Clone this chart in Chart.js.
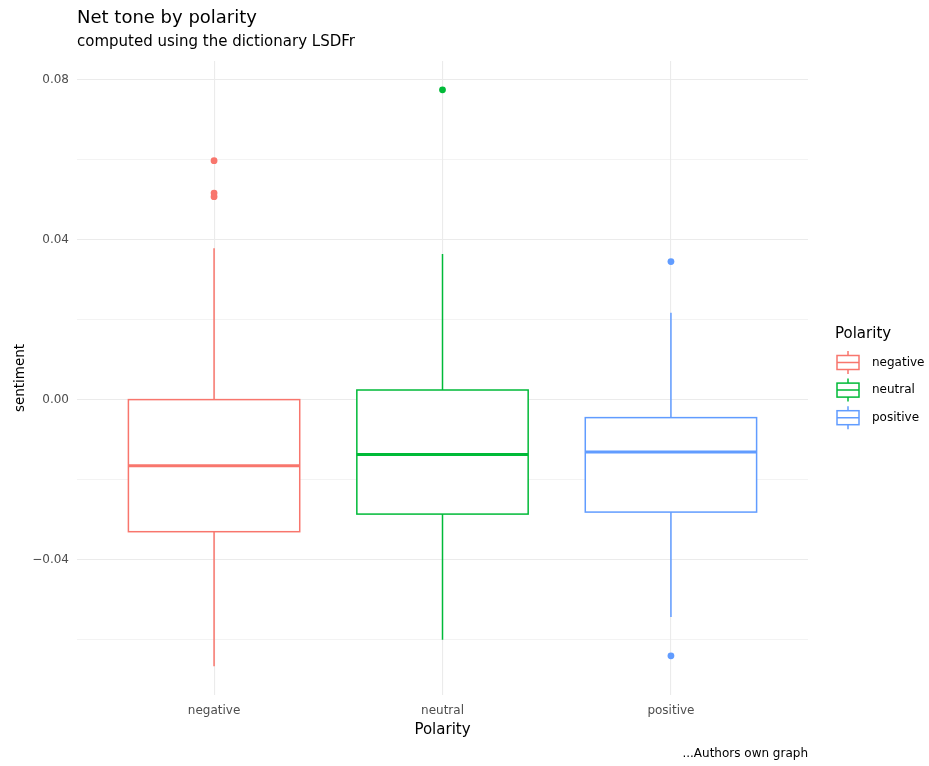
<!DOCTYPE html>
<html>
<head>
<meta charset="utf-8">
<title>Net tone by polarity</title>
<script src="https://cdn.jsdelivr.net/npm/chart.js"></script>
<style>
    body { margin: 0; background: #ffffff; }
    canvas { display: block; }
</style>
</head>
<body>
<canvas id="toneChart" width="929" height="766"></canvas>
<script>
    // Boxplot summary per polarity group
    var categories = ['negative', 'neutral', 'positive'];
    var whiskerLow = [-0.0666, -0.0600, -0.0543];
    var q1 = [-0.0330, -0.0286, -0.0281];
    var medians = [-0.0165, -0.0137, -0.0131];
    var q3 = [0.0000, 0.0024, -0.0045];
    var whiskerHigh = [0.0378, 0.0364, 0.0217];
    var outliers = [[0.0597, 0.0516, 0.0507], [0.0774], [0.0345, -0.0640]];

    // y axis range and breaks (unlabelled ones are the minor grid lines)
    var yMin = -0.0738;
    var yMax = 0.0846;
    var yTicks = [-0.06, -0.04, -0.02, 0, 0.02, 0.04, 0.06, 0.08];
    var yTickLabels = ['', '\u22120.04', '', '0.00', '', '0.04', '', '0.08'];

    var colors = ['#F8766D', '#00BA38', '#619CFF'];
    var FONT = 'DejaVu Sans';

    Chart.defaults.font.family = FONT;

    function isMajor(value) {
        var i = yTicks.findIndex(function(t) { return Math.abs(t - value) < 1e-9; });
        return i >= 0 && yTickLabels[i] !== '';
    }

    // Boxes, whiskers, titles, caption and legend
    var boxPlugin = {
        id: 'boxPlugin',
        beforeDatasetsDraw: function(chart) {
            var ctx = chart.ctx;
            var xs = chart.scales.x, ys = chart.scales.y;
            var half = (xs.getPixelForValue(1.375) - xs.getPixelForValue(1));
            ctx.save();
            categories.forEach(function(cat, i) {
                var cx = xs.getPixelForValue(i + 1);
                ctx.strokeStyle = colors[i];
                ctx.lineWidth = 1.5;
                // whiskers
                ctx.beginPath();
                ctx.moveTo(cx, ys.getPixelForValue(q3[i]));
                ctx.lineTo(cx, ys.getPixelForValue(whiskerHigh[i]));
                ctx.moveTo(cx, ys.getPixelForValue(q1[i]));
                ctx.lineTo(cx, ys.getPixelForValue(whiskerLow[i]));
                ctx.stroke();
                // box
                var top = ys.getPixelForValue(q3[i]);
                var bottom = ys.getPixelForValue(q1[i]);
                ctx.fillStyle = '#ffffff';
                ctx.fillRect(cx - half, top, half * 2, bottom - top);
                ctx.strokeRect(cx - half, top, half * 2, bottom - top);
                // median
                var my = ys.getPixelForValue(medians[i]);
                ctx.lineWidth = 3;
                ctx.beginPath();
                ctx.moveTo(cx - half, my);
                ctx.lineTo(cx + half, my);
                ctx.stroke();
            });
            ctx.restore();
        },
        afterDraw: function(chart) {
            var ctx = chart.ctx;
            var area = chart.chartArea;
            ctx.save();
            ctx.fillStyle = '#000000';
            ctx.textAlign = 'left';
            ctx.textBaseline = 'alphabetic';
            ctx.font = '18px "' + FONT + '"';
            ctx.fillText('Net tone by polarity', area.left, 23);
            ctx.font = '15px "' + FONT + '"';
            ctx.fillText('computed using the dictionary LSDFr', area.left, 46);

            ctx.font = '12px "' + FONT + '"';
            ctx.textAlign = 'right';
            ctx.fillText('...Authors own graph', area.right, 757);

            // legend
            ctx.textAlign = 'left';
            ctx.font = '15px "' + FONT + '"';
            ctx.fillText('Polarity', 835, 338);
            ctx.font = '12px "' + FONT + '"';
            ctx.textBaseline = 'middle';
            categories.forEach(function(cat, i) {
                var cy = 362.5 + i * 27.6;
                var kx = 848;
                ctx.strokeStyle = colors[i];
                ctx.lineWidth = 1.5;
                ctx.beginPath();
                ctx.moveTo(kx, cy - 11.5);
                ctx.lineTo(kx, cy - 7);
                ctx.moveTo(kx, cy + 7);
                ctx.lineTo(kx, cy + 11.5);
                ctx.moveTo(837, cy);
                ctx.lineTo(859, cy);
                ctx.stroke();
                ctx.strokeRect(837, cy - 7, 22, 14);
                ctx.fillStyle = '#000000';
                ctx.fillText(cat, 872, cy);
            });
            ctx.restore();
        }
    };

    var datasets = categories.map(function(cat, i) {
        return {
            label: cat,
            data: outliers[i].map(function(v) { return { x: i + 1, y: v }; }),
            backgroundColor: colors[i],
            borderWidth: 0,
            pointRadius: 3.4,
            pointHoverRadius: 3.4
        };
    });

    new Chart(document.getElementById('toneChart'), {
        type: 'scatter',
        data: { datasets: datasets },
        plugins: [boxPlugin],
        options: {
            responsive: false,
            animation: false,
            layout: { padding: { top: 61, right: 121, bottom: 0, left: 0 } },
            plugins: {
                legend: { display: false },
                tooltip: { enabled: false }
            },
            scales: {
                x: {
                    type: 'linear',
                    min: 0.4,
                    max: 3.6,
                    afterBuildTicks: function(scale) {
                        scale.ticks = categories.map(function(c, i) { return { value: i + 1 }; });
                    },
                    afterFit: function(scale) { scale.height = 71; },
                    ticks: {
                        padding: 9,
                        color: '#4d4d4d',
                        font: { size: 12 },
                        maxRotation: 0,
                        callback: function(value) { return categories[Math.round(value) - 1]; }
                    },
                    grid: { color: '#ebebeb', lineWidth: 1.1, drawTicks: false },
                    border: { display: false },
                    title: {
                        display: true,
                        text: 'Polarity',
                        color: '#000000',
                        font: { size: 15 },
                        padding: { top: 0, bottom: 27 }
                    }
                },
                y: {
                    min: yMin,
                    max: yMax,
                    afterBuildTicks: function(scale) {
                        scale.ticks = yTicks.map(function(v) { return { value: v }; });
                    },
                    afterFit: function(scale) { scale.width = 77; },
                    ticks: {
                        padding: 8,
                        color: '#4d4d4d',
                        font: { size: 12 },
                        callback: function(value) {
                            var i = yTicks.findIndex(function(t) { return Math.abs(t - value) < 1e-9; });
                            return i >= 0 ? yTickLabels[i] : '';
                        }
                    },
                    grid: {
                        color: '#ebebeb',
                        drawTicks: false,
                        lineWidth: function(c) { return isMajor(c.tick.value) ? 1.1 : 0.6; }
                    },
                    border: { display: false },
                    title: {
                        display: true,
                        text: 'sentiment',
                        color: '#000000',
                        font: { size: 13.5 },
                        padding: { top: 12, bottom: 0 }
                    }
                }
            }
        }
    });
</script>
</body>
</html>
